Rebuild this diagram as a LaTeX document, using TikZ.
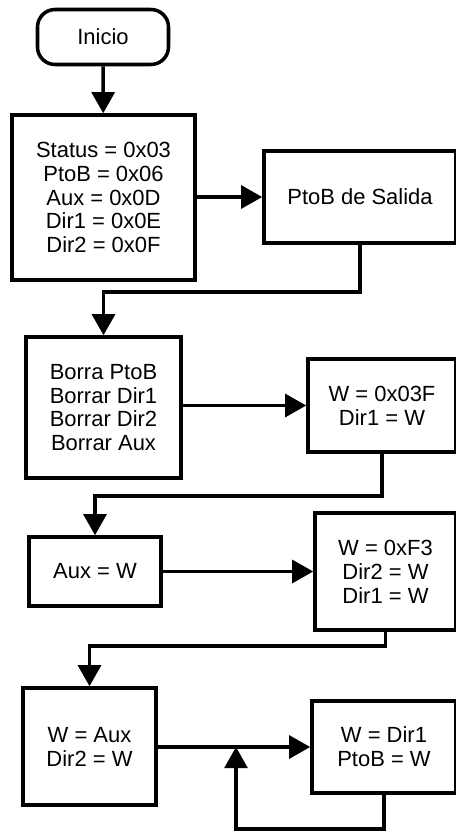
\documentclass[tikz,border=0pt]{standalone}
\usepackage{fontspec}
\setmainfont{Liberation Sans}
\usetikzlibrary{arrows.meta}

\tikzset{
    box/.style={draw, line width=2pt, align=center, font=\fontsize{12.5}{13.6}\selectfont},
    term/.style={box, rounded corners=10pt},
    flow/.style={line width=2pt, -{Triangle[width=13pt,length=12pt]}}
}

\begin{document}
\begin{tikzpicture}[x=0.02cm, y=-0.02cm]
    % Fix the size of the page
    \useasboundingbox (0,0) rectangle (456,832);

    % Draw the blocks
    \node[term, minimum width=131*0.02cm, minimum height=55*0.02cm] (inicio) at (103,37) {Inicio};
    \node[box, minimum width=183*0.02cm, minimum height=165*0.02cm] (config) at (103.5,197.5)
        {Status = 0x03\\PtoB = 0x06\\Aux = 0x0D\\Dir1 = 0x0E\\Dir2 = 0x0F};
    \node[box, minimum width=192*0.02cm, minimum height=92*0.02cm] (salida) at (360,197) {PtoB de Salida};
    \node[box, minimum width=155*0.02cm, minimum height=141*0.02cm] (borrar) at (103.5,407.5)
        {Borra PtoB\\Borrar Dir1\\Borrar Dir2\\Borrar Aux};
    \node[box, minimum width=148*0.02cm, minimum height=93*0.02cm] (cargaA) at (382,405.5) {W = 0x03F\\Dir1 = W};
    \node[box, minimum width=132*0.02cm, minimum height=69*0.02cm] (guarda) at (95,571.5) {Aux = W};
    \node[box, minimum width=141*0.02cm, minimum height=117*0.02cm] (cargaB) at (385.5,571.5) {W = 0xF3\\Dir2 = W\\Dir1 = W};
    \node[box, minimum width=133*0.02cm, minimum height=117*0.02cm] (recupera) at (89.5,746.5) {W = Aux\\Dir2 = W};
    \node[box, minimum width=144*0.02cm, minimum height=92*0.02cm] (salidaB) at (384,747) {W = Dir1\\PtoB = W};

    % Corner points of the connectors
    \coordinate (j1) at (0,292);
    \coordinate (j2) at (0,496);
    \coordinate (j3) at (0,646);
    \coordinate (j4) at (0,829);
    \coordinate (merge) at (236,747);

    % Draw the connectors
    \draw[flow] (inicio) -- (config);
    \draw[flow] (config.east |- salida) -- (salida);
    \draw[flow] (salida.south) -- (salida.south |- j1) -| (borrar.north);
    \draw[flow] (borrar.east |- cargaA) -- (cargaA);
    \draw[flow] (cargaA.south) -- (cargaA.south |- j2) -| (guarda.north);
    \draw[flow] (guarda) -- (cargaB);
    \draw[flow] (cargaB.south) -- (cargaB.south |- j3) -| (recupera.north);
    \draw[flow] (recupera.east |- salidaB) -- (salidaB);
    \draw[flow] (salidaB.south) -- (salidaB.south |- j4) -| (merge);

\end{tikzpicture}
\end{document}
